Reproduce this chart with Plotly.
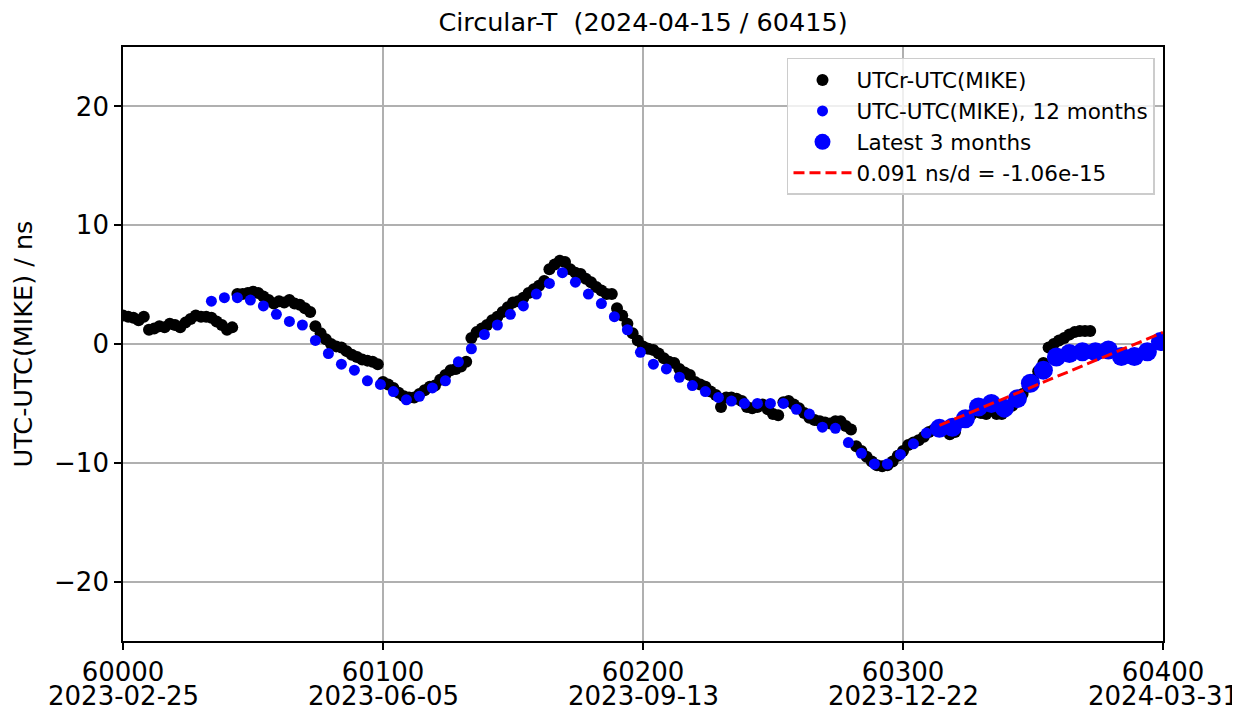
import plotly.graph_objects as go

# ---------------- data ----------------
# UTCr-UTC(MIKE), every 2 days starting MJD 60000 (ns)
utcr_start = 60000
utcr_step = 2
utcr_vals = [
    2.4, 2.3, 2.2, 2.0, 2.3, 1.2, 1.3, 1.5, 1.4, 1.7,
    1.6, 1.4, 1.8, 2.1, 2.4, 2.3, 2.3, 2.2, 1.9, 1.6,
    1.2, 1.4, 4.2, 4.2, 4.3, 4.4, 4.3, 4.0, 3.7, 3.4,
    3.6, 3.5, 3.7, 3.4, 3.3, 3.0, 2.7, 1.5, 0.9, 0.4,
    0.0, -0.2, -0.3, -0.6, -0.9, -1.1, -1.3, -1.4, -1.5, -1.7,
    -3.2, -3.4, -3.7, -4.1, -4.4, -4.5, -4.5, -4.2, -3.9, -3.6,
    -3.5, -3.0, -2.6, -2.2, -2.1, -1.9, -1.5, 0.5, 1.0, 1.3,
    1.6, 2.0, 2.3, 2.7, 3.1, 3.5, 3.6, 3.9, 4.3, 4.6,
    4.9, 5.3, 6.3, 6.7, 7.0, 6.9, 6.3, 6.0, 5.9, 5.5,
    5.2, 4.8, 4.5, 4.2, 4.2, 3.0, 2.4, 1.7, 0.9, 0.3,
    -0.2, -0.4, -0.5, -0.8, -1.2, -1.5, -1.6, -2.1, -2.4, -2.6,
    -3.2, -3.4, -3.6, -4.0, -4.3, -5.3, -4.5, -4.5, -4.6, -4.8,
    -5.3, -5.4, -5.3, -5.1, -5.5, -5.9, -6.0, -4.9, -4.8, -5.1,
    -5.4, -5.8, -6.2, -6.4, -6.5, -6.6, -6.7, -6.5, -6.5, -6.9,
    -7.2, -8.6, -9.0, -9.5, -9.9, -10.2, -10.3, -10.2, -9.9, -9.4,
    -9.0, -8.5, -8.3, -8.1, -7.8, -7.4, -7.2, -7.0, -7.1, -7.6,
    -7.4, -6.6, -6.2, -6.0, -5.7, -5.8, -5.9, -5.6, -5.9, -5.9,
    -5.5, -5.2, -4.8, -4.2, -3.6, -3.0, -2.3, -1.6, -0.3, 0.0,
    0.3, 0.5, 0.8, 1.0, 1.1, 1.1, 1.1,
]
utcr_mjd = [utcr_start + utcr_step * i for i in range(len(utcr_vals))]

# UTC-UTC(MIKE), 5-day values, 12 months (ns)
utc_start = 60034
utc_step = 5
utc_vals = [
    3.6, 3.9, 3.9, 3.7, 3.2, 2.5, 1.9, 1.6, 0.3, -0.8,
    -1.7, -2.2, -3.1, -3.4, -4.0, -4.7, -4.4, -3.7, -3.1, -1.5,
    -0.4, 0.8, 1.6, 2.5, 3.2, 4.2, 5.1, 6.0, 5.2, 4.2,
    3.4, 2.3, 1.2, -0.7, -1.7, -2.1, -2.8, -3.5, -4.0, -4.5,
    -4.8, -5.0, -5.0, -5.0, -5.0, -5.5, -5.9, -7.0, -7.1, -8.3,
    -9.2, -10.1, -10.1, -9.3, -8.4, -7.5, -7.1, -7.0, -6.3, -5.3,
    -5.0, -5.4, -4.6, -3.3, -2.2, -1.1, -0.8, -0.65, -0.65, -0.5,
    -1.05, -1.05, -0.65, 0.2,
]
utc_mjd = [utc_start + utc_step * i for i in range(len(utc_vals))]

# Latest 3 months
latest_mjd = [60314, 60319, 60324, 60329, 60334, 60339, 60344, 60349, 60354,
              60359, 60364, 60369, 60374, 60379, 60384, 60389, 60394, 60399]
latest_vals = [-7.1, -7.0, -6.3, -5.3, -5.0, -5.4, -4.6, -3.3, -2.2,
               -1.1, -0.8, -0.65, -0.65, -0.5, -1.05, -1.05, -0.65, 0.2]

# Linear fit over the latest 3 months
fit_mjd = [60314, 60400]
fit_slope = 0.091          # ns/d
fit_intercept = -6.85      # ns at fit_mjd[0]
fit_vals = [fit_intercept + fit_slope * (m - fit_mjd[0]) for m in fit_mjd]

tick_mjd = [60000, 60100, 60200, 60300, 60400]
tick_dates = ["2023-02-25", "2023-06-05", "2023-09-13", "2023-12-22", "2024-03-31"]
y_ticks = [-20, -10, 0, 10, 20]

# ---------------- figure ----------------
FONT = "DejaVu Sans"
# page body adds an 8px margin; the figure is sized so it fills the 1240x711 window
W, H = 1232, 703
MT, MB = 39, 70
plot_h = H - MT - MB
fig = go.Figure()

fig.add_trace(go.Scatter(
    x=utcr_mjd, y=utcr_vals, mode="markers", name="UTCr-UTC(MIKE)", legendgroup="a",
    marker=dict(color="black", size=12, line=dict(width=0)),
))
fig.add_trace(go.Scatter(
    x=utc_mjd, y=utc_vals, mode="markers", name="UTC-UTC(MIKE), 12 months", legendgroup="b",
    marker=dict(color="#0000ff", size=11, line=dict(width=0)),
))
fig.add_trace(go.Scatter(
    x=latest_mjd, y=latest_vals, mode="markers", name="Latest 3 months", legendgroup="c",
    marker=dict(color="#0000ff", size=19, line=dict(width=0)),
))
fig.add_trace(go.Scatter(
    x=fit_mjd, y=fit_vals, mode="lines", name="0.091 ns/d = -1.06e-15", legendgroup="d",
    line=dict(color="#ff0000", width=3, dash="11px,5px"),
))

# second line of each x tick label (calendar date)
date_annotations = [
    dict(x=m, y=-55 / plot_h, xref="x", yref="paper", text=d, showarrow=False,
         xanchor="center", yanchor="middle", font=dict(family=FONT, size=26, color="black"))
    for m, d in zip(tick_mjd, tick_dates)
]

fig.update_layout(
    width=W, height=H,
    margin=dict(l=115, r=77, t=MT, b=MB),
    paper_bgcolor="white", plot_bgcolor="white",
    font=dict(family=FONT, size=25, color="black"),
    title=dict(text="Circular-T  (2024-04-15 / 60415)", x=0.5, xanchor="center",
               xref="paper", y=1 - 14 / H, yref="container", yanchor="middle",
               font=dict(family=FONT, size=25.5, color="black")),
    showlegend=True,
    legend=dict(x=0.9923, y=0.9815, xanchor="right", yanchor="top",
                bgcolor="rgba(255,255,255,0.8)", bordercolor="#cccccc", borderwidth=1.5,
                font=dict(family=FONT, size=21.5, color="black"),
                tracegroupgap=0, itemsizing="trace", itemwidth=58),
    annotations=date_annotations,
)

fig.update_xaxes(
    range=[60000, 60400], tickmode="array", tickvals=tick_mjd,
    ticktext=[str(m) for m in tick_mjd],
    showgrid=True, gridcolor="#b0b0b0", gridwidth=1.6,
    showline=True, linecolor="black", linewidth=1.7, mirror=True,
    ticks="outside", ticklen=7, tickwidth=1.7, tickcolor="black",
    zeroline=False, tickfont=dict(family=FONT, size=26), automargin=False,
)
fig.update_yaxes(
    range=[-25, 25], tickmode="array", tickvals=y_ticks,
    ticktext=[("\u2212" + str(abs(v))) if v < 0 else str(v) for v in y_ticks],
    showgrid=True, gridcolor="#b0b0b0", gridwidth=1.6,
    showline=True, linecolor="black", linewidth=1.7, mirror=True,
    ticks="outside", ticklen=7, tickwidth=1.7, tickcolor="black",
    zeroline=False, tickfont=dict(family=FONT, size=26), automargin=False,
    title=dict(text="UTC-UTC(MIKE) / ns", font=dict(family=FONT, size=25.5), standoff=16),
)

fig.write_html("out.html")
